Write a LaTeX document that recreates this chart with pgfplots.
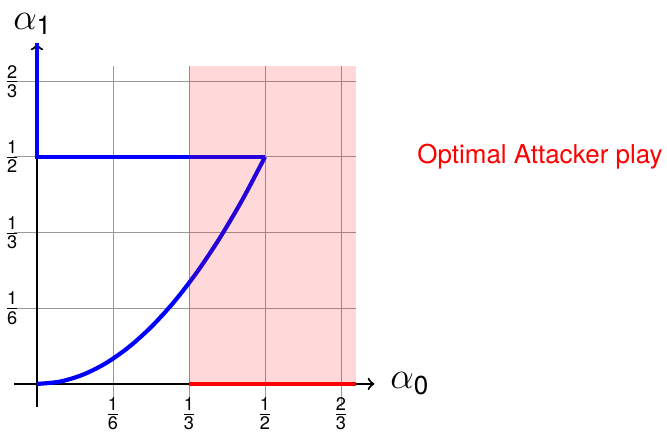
\documentclass[border=0pt]{standalone}
\usepackage{fontspec}
\setmainfont{TeX Gyre Heros}
\usepackage{amsmath}
\usepackage{pgfplots}
\pgfplotsset{compat=1.18}
\newcommand{\sfrac}[2]{\ensuremath{\textstyle\frac{\text{#1}}{\text{#2}}}}
\begin{document}
\begin{tikzpicture}
\begin{axis}[
  scale only axis, width=131.7pt, height=131.1pt,
  xmin=-0.05, xmax=0.7, ymin=-0.05, ymax=0.7,
  enlargelimits=false,
  axis lines=middle,
  axis line style={draw=none},
  major tick length=0pt,
  xtick={0.1666667,0.3333333,0.5,0.6666667},
  ytick={0.1666667,0.3333333,0.5,0.6666667},
  xticklabels={\sfrac{1}{6},\sfrac{1}{3},\sfrac{1}{2},\sfrac{2}{3}},
  yticklabels={\sfrac{1}{6},\sfrac{1}{3},\sfrac{1}{2},\sfrac{2}{3}},
  grid=major,
  major grid style={gray!80, line width=0.35pt},
  xticklabel style={inner sep=0pt, anchor=north, yshift=-5.2pt},
  yticklabel style={inner sep=0pt, anchor=east, xshift=-6.2pt},
  clip=false,
]
% axes
\addplot[black, line width=0.8pt, ->] coordinates {(-0.05,0) (0.74,0)};
\addplot[black, line width=0.8pt, ->] coordinates {(0,-0.05) (0,0.75)};
% blue strategy lines
\addplot[blue, line width=1.6pt, line join=miter] coordinates {(0,0.75) (0,0.5) (0.5,0.5)};
\addplot[blue, line width=1.6pt, smooth] coordinates {
  (0,0) (0.05,0.005) (0.1,0.02) (0.15,0.045) (0.2,0.08) (0.25,0.125)
  (0.3,0.18) (0.35,0.245) (0.4,0.32) (0.45,0.405) (0.5,0.5)};
% red segment
\addplot[red, line width=1.6pt] coordinates {(0.3333333,0) (0.7,0)};
% pink region
\addplot[draw=none, fill=red, fill opacity=0.15] coordinates {
  (0.3333333,0) (0.7,0) (0.7,0.7) (0.3333333,0.7)} -- cycle;
% labels
\node[inner sep=0pt] at (axis cs:0.818,0) {\Large$\alpha_{\text{0}}$};
\node[inner sep=0pt] at (axis cs:-0.009,0.793) {\Large$\alpha_{\text{1}}$};
\node[red, anchor=west, inner sep=0pt] at (axis cs:0.833,0.5) {Optimal Attacker play};
% bounding box matching reference proportions
\path (axis cs:-0.0811,-0.108) rectangle (axis cs:1.3816,0.8458);
\end{axis}
\end{tikzpicture}
\end{document}
